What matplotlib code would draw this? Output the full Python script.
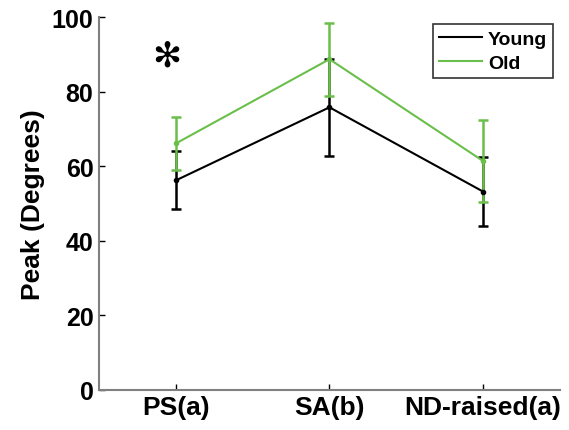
# peak angle by task, young vs old, with SD error bars
import matplotlib
matplotlib.use("Agg")
import matplotlib.pyplot as plt
from matplotlib.lines import Line2D

plt.rcParams['font.family'] = ['Liberation Sans', 'DejaVu Sans']
plt.rcParams['font.weight'] = 'bold'

# --- data ---
tasks = ["PS(a)", "SA(b)", "ND-raised(a)"]
young_mean = [56.2, 75.8, 53.2]
young_err = [7.8, 13.0, 9.2]
old_mean = [66.1, 88.7, 61.4]
old_err = [7.0, 9.8, 10.9]

x = [1, 2, 3]
GREEN = '#6abf4b'

fig = plt.figure(figsize=(5.69, 4.31), dpi=100)
ax = fig.add_axes([0.174, 0.093, 0.81, 0.865])

ax.errorbar(x, young_mean, yerr=young_err, color='black', lw=1.5,
            elinewidth=1.8, capsize=3.5, capthick=1.8,
            marker='o', markersize=3)
ax.errorbar(x, old_mean, yerr=old_err, color=GREEN, lw=1.5,
            elinewidth=1.8, capsize=3.5, capthick=1.8,
            marker='o', markersize=3)

ax.set_xlim(0.5, 3.5)
ax.set_ylim(0, 100)
ax.set_xticks(x)
ax.set_xticklabels(tasks)
ax.set_yticks([0, 20, 40, 60, 80, 100])
ax.tick_params(direction='in', length=4, width=1, pad=4)
ax.tick_params(axis='x', labelsize=19)
ax.tick_params(axis='y', labelsize=18)
for lbl in ax.get_xticklabels() + ax.get_yticklabels():
    lbl.set_fontweight('bold')

for s in ['top', 'right']:
    ax.spines[s].set_visible(False)
for s in ['left', 'bottom']:
    ax.spines[s].set_color('#808080')
    ax.spines[s].set_linewidth(1.5)

ax.set_ylabel("Peak (Degrees)", fontsize=19, fontweight='bold', labelpad=5)

# significance marker over PS (six teardrop spokes)
ax.text(0.94, 89.8, "\u273b", fontsize=25, family=['DejaVu Sans'],
        ha='center', va='center')

# legend with plain line handles
handles = [Line2D([], [], color='black', lw=1.5),
           Line2D([], [], color=GREEN, lw=1.5)]
leg = ax.legend(handles, ["Young", "Old"], loc='upper right',
                bbox_to_anchor=(0.985, 0.981),
                prop={'weight': 'bold', 'size': 14},
                frameon=True, fancybox=False, edgecolor='black',
                handlelength=2.2, borderpad=0.3, labelspacing=0.35,
                handletextpad=0.3, borderaxespad=0)
leg.get_frame().set_linewidth(1.2)

fig.savefig("out.png", dpi=100)
